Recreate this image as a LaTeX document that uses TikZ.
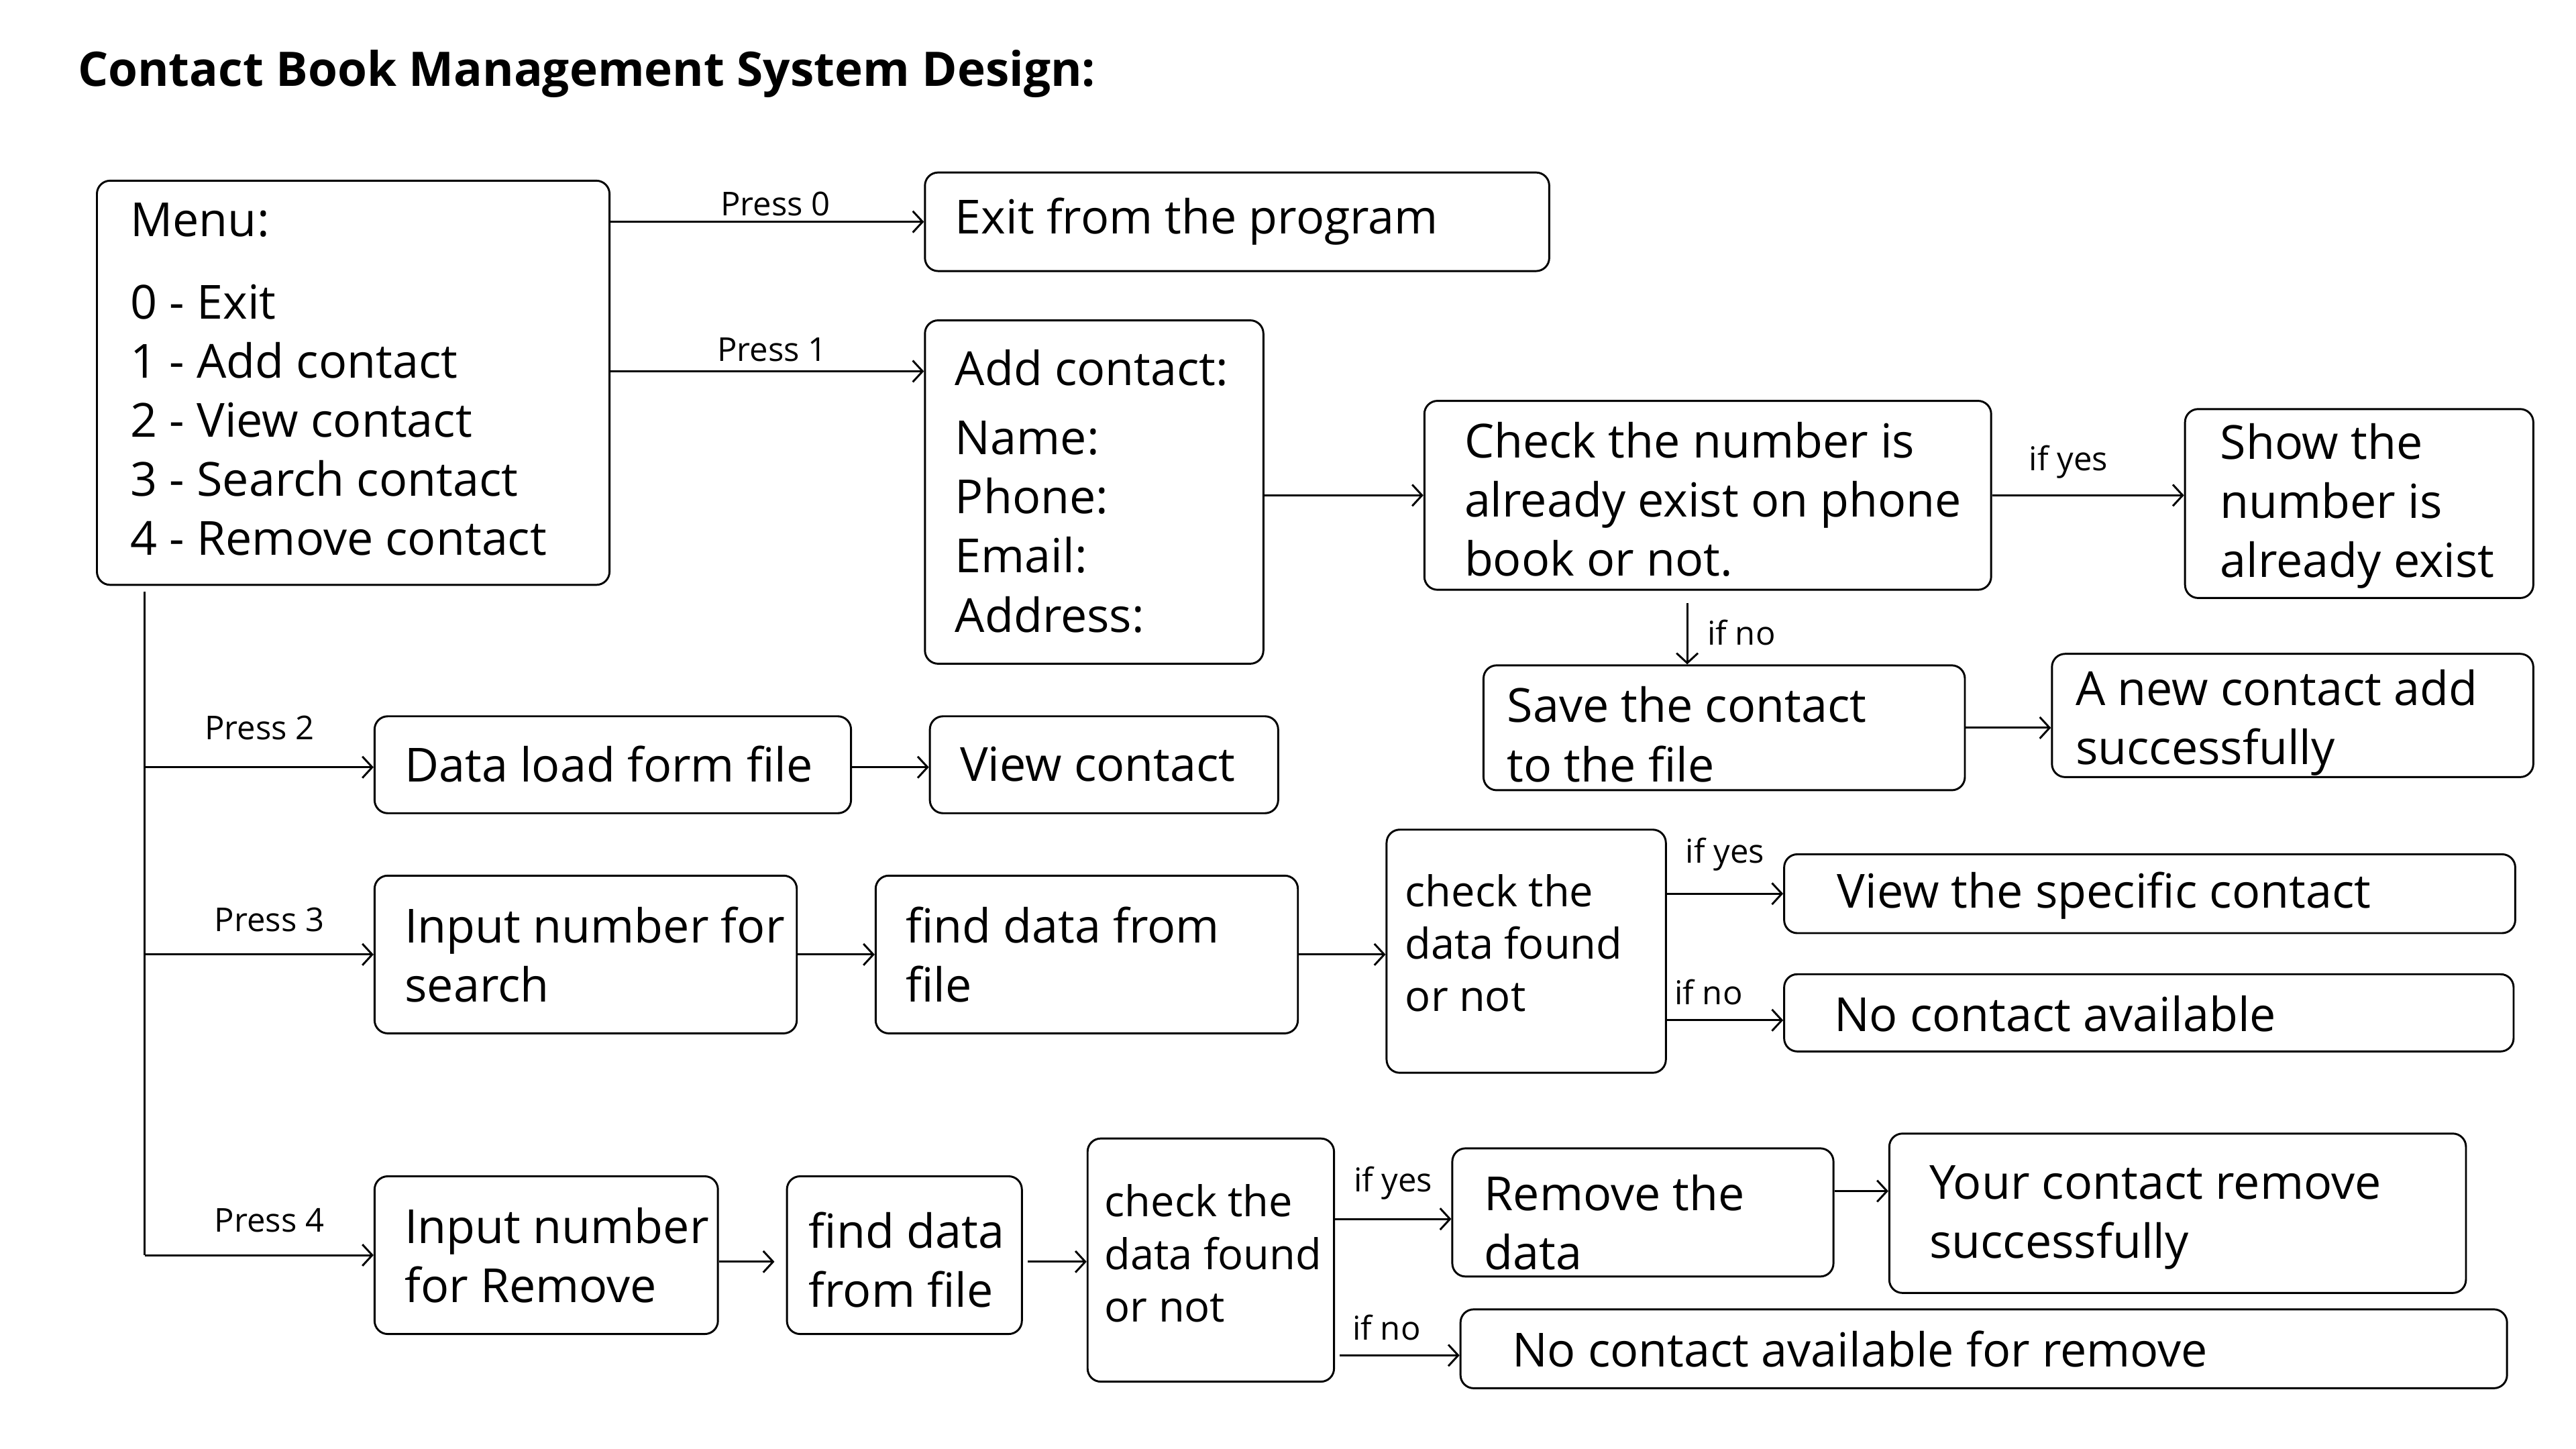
\documentclass[tikz,border=0pt]{standalone}
\usepackage{fontspec}
\setmainfont{Open Sans}
\usetikzlibrary{arrows.meta,fit}
\begin{document}
\begin{tikzpicture}[x=0.5pt,y=-0.5pt,
 box/.style={draw,rounded corners=4pt,line width=0.6pt,inner sep=0pt},
 txt/.style={anchor=west,inner sep=0pt,align=left,font=\fontsize{14.3}{18}\selectfont},
 stxt/.style={anchor=west,inner sep=0pt,align=left,font=\fontsize{12.9}{16}\selectfont},
 lbl/.style={inner sep=0pt,font=\fontsize{10}{12}\selectfont},
 arr/.style={line width=0.6pt,-{Straight Barb[length=3pt,width=6.5pt]}},
 ln/.style={line width=0.6pt}]
\useasboundingbox[fill=white] (0,0) rectangle (1568,882);

\node[anchor=west,inner sep=0pt,font=\bfseries\fontsize{14.5}{16}\selectfont] (title) at (47,45) {Contact Book Management System Design:};

% boxes
\node[box,fit={(59,110) (371,356)}] (menu) {};
\node[box,fit={(563,105) (943,165)}] (exit) {};
\node[box,fit={(563,195) (769,404)}] (add) {};
\node[box,fit={(867,244) (1212,359)}] (check) {};
\node[box,fit={(1330,249) (1542,364)}] (show) {};
\node[box,fit={(903,405) (1196,481)}] (save) {};
\node[box,fit={(1249,398) (1542,473)}] (new) {};
\node[box,fit={(228,436) (518,495)}] (load) {};
\node[box,fit={(566,436) (778,495)}] (viewc) {};
\node[box,fit={(228,533) (485,629)}] (insearch) {};
\node[box,fit={(533,533) (790,629)}] (find) {};
\node[box,fit={(844,505) (1014,653)}] (chk3) {};
\node[box,fit={(1086,520) (1531,568)}] (viewsp) {};
\node[box,fit={(1086,593) (1530,640)}] (nocont) {};
\node[box,fit={(228,716) (437,812)}] (inrem) {};
\node[box,fit={(479,716) (622,812)}] (find4) {};
\node[box,fit={(662,693) (812,841)}] (chk4) {};
\node[box,fit={(884,699) (1116,777)}] (remove) {};
\node[box,fit={(1150,690) (1501,787)}] (your) {};
\node[box,fit={(889,797) (1526,845)}] (nocr) {};

% texts
\node[txt] (tmenu) at (79,231) {Menu:\\[7pt]0 - Exit\\1 - Add contact\\2 - View contact\\3 - Search contact\\4 - Remove contact};
\node[txt] (texit) at (581,135) {Exit from the program};
\node[txt] (tadd) at (581,299) {Add contact:\\[3pt]Name:\\Phone:\\Email:\\Address:};
\node[txt] (tcheck) at (891,304) {Check the number is\\already exist on phone\\book or not.};
\node[txt] (tshow) at (1351,308) {Show the\\number is\\already exist};
\node[txt] (tsave) at (917,447) {Save the contact\\to the file};
\node[txt] (tnew) at (1263,440) {A new contact add\\successfully};
\node[txt] (tload) at (246,465) {Data load form file};
\node[txt] (tviewc) at (584,465) {View contact};
\node[txt] (tinsearch) at (246,581) {Input number for\\search};
\node[txt] (tfind) at (551,581) {find data from\\file};
\node[stxt] (tchk3) at (855,574) {check the\\data found\\or not};
\node[txt] (tviewsp) at (1118,545) {View the specific contact};
\node[txt] (tnocont) at (1116,617) {No contact available};
\node[txt] (tinrem) at (246,764) {Input number\\for Remove};
\node[txt] (tfind4) at (492,767) {find data\\from file};
\node[stxt] (tchk4) at (672,763) {check the\\data found\\or not};
\node[txt] (tremove) at (903,744) {Remove the\\data};
\node[txt] (tyour) at (1174,741) {Your contact remove\\successfully};
\node[txt] (tnocr) at (920,821) {No contact available for remove};

% connectors
\draw[arr] (exit.west -| menu.east) -- (exit.west);
\draw[arr] (menu.east |- 0,226) -- (add.west |- 0,226);
\draw[arr] (add.east |- check.west) -- (check.west);
\draw[arr] (check.east) -- (check.east -| show.west);
\coordinate (nostart) at (1027,367);
\draw[arr] (nostart) -- (nostart |- save.north);
\draw[arr] (save.east) -- (save.east -| new.west);

\coordinate (vtop) at (88,360);
\draw[ln] (vtop) -- (vtop |- inrem.west);
\draw[arr] (vtop |- 0,467) -- (load.west |- 0,467);
\draw[arr] (load.east |- 0,467) -- (viewc.west |- 0,467);
\draw[arr] (vtop |- insearch.west) -- (insearch.west);
\draw[arr] (insearch.east) -- (find.west);
\draw[arr] (find.east) -- (find.east -| chk3.west);
\draw[arr] (chk3.east |- viewsp.west) -- (viewsp.west);
\draw[arr] (chk3.east |- 0,621) -- (nocont.west |- 0,621);
\draw[arr] (vtop |- inrem.west) -- (inrem.west);
\draw[arr,shorten >=3.5pt] (inrem.east |- 0,768) -- (find4.west |- 0,768);
\draw[arr,shorten <=1.5pt] (find4.east |- 0,768) -- (chk4.west |- 0,768);
\draw[arr] (chk4.east |- 0,742) -- (remove.west |- 0,742);
\draw[arr,shorten <=1.5pt] (chk4.east |- 0,825) -- (nocr.west |- 0,825);
\draw[arr] (remove.east |- 0,725) -- (your.west |- 0,725);

% labels
\node[lbl] at (472,124) {Press 0};
\node[lbl] at (470,213) {Press 1};
\node[lbl] at (1259,281) {if yes};
\node[lbl] at (1060,385) {if no};
\node[lbl] at (158,443) {Press 2};
\node[lbl] at (164,560) {Press 3};
\node[lbl] at (164,743) {Press 4};
\node[lbl] at (1050,520) {if yes};
\node[lbl] at (1040,604) {if no};
\node[lbl] at (848,720) {if yes};
\node[lbl] at (844,808) {if no};
\end{tikzpicture}
\end{document}
